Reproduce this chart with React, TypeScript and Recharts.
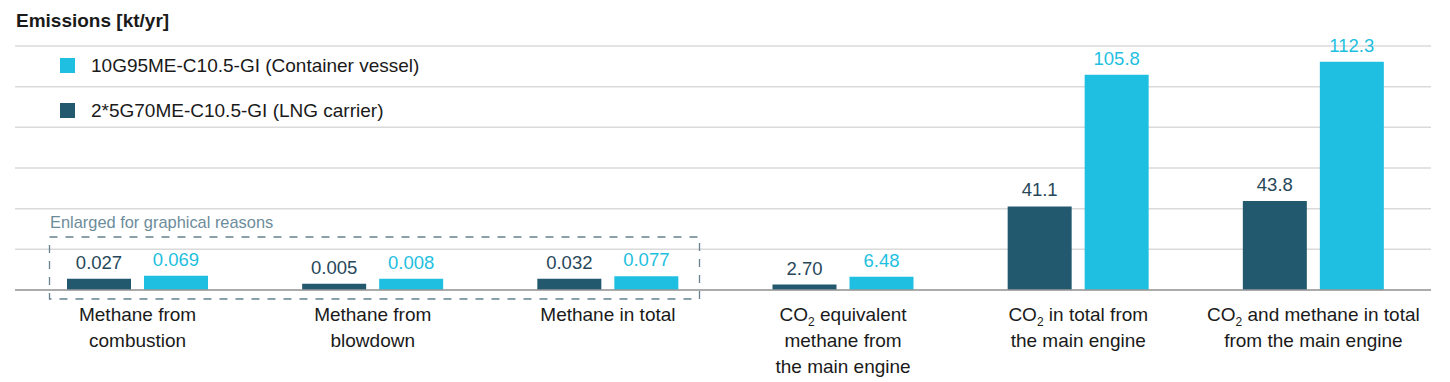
import React from 'react';
import { BarChart, Bar, XAxis, YAxis, CartesianGrid, LabelList } from 'recharts';

// categories (x axis), with their wrapped lines for the tick labels
const categories = [
  'Methane from combustion',
  'Methane from blowdown',
  'Methane in total',
  'CO2 equivalent methane from the main engine',
  'CO2 in total from the main engine',
  'CO2 and methane in total from the main engine',
];
const categoryLines = [
  ['Methane from', 'combustion'],
  ['Methane from', 'blowdown'],
  ['Methane in total'],
  ['CO2 equivalent', 'methane from', 'the main engine'],
  ['CO2 in total from', 'the main engine'],
  ['CO2 and methane in total', 'from the main engine'],
];

// printed values
const lngLabels = ['0.027', '0.005', '0.032', '2.70', '41.1', '43.8'];
const containerLabels = ['0.069', '0.008', '0.077', '6.48', '105.8', '112.3'];

// drawn bar heights (first three are enlarged for graphical reasons)
const lngValues = [5.5, 3.1, 5.5, 2.7, 41.1, 43.8];
const containerValues = [7.0, 5.5, 6.8, 6.48, 105.8, 112.3];

const yTicks = [0, 20, 40, 60, 80, 100, 120];

const lngName = '2*5G70ME-C10.5-GI (LNG carrier)';
const containerName = '10G95ME-C10.5-GI (Container vessel)';

const DARK = '#22596e';
const LIGHT = '#1ebfe0';
const FONT = '"Liberation Sans", Arial, Helvetica, sans-serif';

const data = categories.map((c, i) => ({
  category: c,
  lng: lngValues[i],
  container: containerValues[i],
  lngLabel: lngLabels[i],
  containerLabel: containerLabels[i],
}));

const renderLine = (line: string) => {
  if (line.startsWith('CO2')) {
    return [
      <tspan key="a">CO</tspan>,
      <tspan key="b" fontSize={12} dy={5}>2</tspan>,
      <tspan key="c" dy={-5}>{line.slice(3)}</tspan>,
    ];
  }
  return line;
};

const CategoryTick = (props: any) => {
  const { x, y, payload } = props;
  const lines = categoryLines[payload.index] || [payload.value];
  return (
    <g>
      {lines.map((line, i) => (
        <text
          key={i}
          x={x}
          y={y + 31 + i * 26}
          textAnchor="middle"
          fontSize={19}
          fontFamily={FONT}
          fill="#1a1a1a"
        >
          {renderLine(line)}
        </text>
      ))}
    </g>
  );
};

const valueLabel = (color: string) => (props: any) => {
  const { x, y, width, value } = props;
  return (
    <text
      x={x + width / 2}
      y={y - 10}
      textAnchor="middle"
      fontSize={18.5}
      fontFamily={FONT}
      fill={color}
    >
      {value}
    </text>
  );
};

const legendItems = [
  { name: containerName, color: LIGHT },
  { name: lngName, color: DARK },
];

export default function App() {
  return (
    <div style={{ position: 'absolute', left: 0, top: 0, width: 1450, height: 382, background: '#fff' }}>
      <BarChart
        width={1450}
        height={382}
        data={data}
        margin={{ top: 46, right: 19, left: 15, bottom: 12 }}
        barSize={64}
        barGap={13}
      >
        <CartesianGrid vertical={false} stroke="#dadada" strokeWidth={1.5} />
        <XAxis
          dataKey="category"
          height={80}
          axisLine={{ stroke: '#999', strokeWidth: 1.5 }}
          tickLine={false}
          tickSize={0}
          tickMargin={0}
          interval={0}
          padding={{ left: 5, right: 0 }}
          tick={<CategoryTick />}
        />
        <YAxis hide domain={[0, 120]} ticks={yTicks} />
        <Bar dataKey="lng" name={lngName} fill={DARK} isAnimationActive={false}>
          <LabelList dataKey="lngLabel" content={valueLabel('#27485a')} />
        </Bar>
        <Bar dataKey="container" name={containerName} fill={LIGHT} isAnimationActive={false}>
          <LabelList dataKey="containerLabel" content={valueLabel(LIGHT)} />
        </Bar>
      </BarChart>

      {/* legend sits between the upper grid lines */}
      <div
        style={{
          position: 'absolute',
          left: 60,
          top: 43,
          fontFamily: FONT,
          fontSize: 19,
          color: '#1a1a1a',
        }}
      >
        {legendItems.map((item) => (
          <div key={item.name} style={{ display: 'flex', alignItems: 'center', height: 45 }}>
            <span style={{ width: 15, height: 15, background: item.color, marginRight: 16 }} />
            <span>{item.name}</span>
          </div>
        ))}
      </div>

      <svg
        width={1450}
        height={382}
        style={{ position: 'absolute', left: 0, top: 0, pointerEvents: 'none' }}
      >
        <text x={16} y={27} fontSize={19} fontWeight="bold" fontFamily={FONT} fill="#1a1a1a">
          Emissions [kt/yr]
        </text>
        <text x={50} y={228} fontSize={16.4} fontFamily={FONT} fill="#6d8c9b">
          Enlarged for graphical reasons
        </text>
        <rect
          x={49.5}
          y={237}
          width={650}
          height={62}
          fill="none"
          stroke="#648291"
          strokeWidth={1.3}
          strokeDasharray="8 8"
        />
      </svg>
    </div>
  );
}
